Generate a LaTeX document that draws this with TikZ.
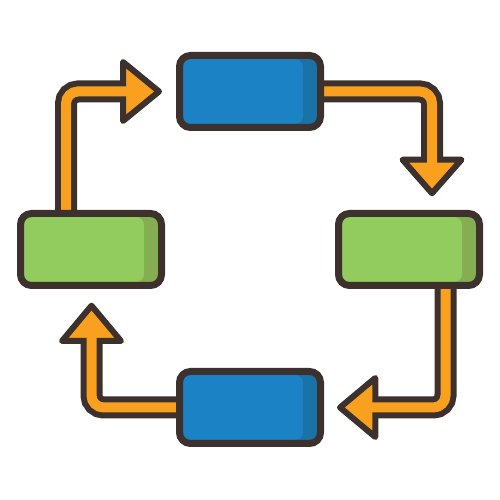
\documentclass[tikz,border=0pt]{standalone}
\usetikzlibrary{calc,backgrounds}
\definecolor{outl}{HTML}{3C312C}
\definecolor{orng}{HTML}{F9A11F}
\definecolor{blu}{HTML}{1B82C5}
\definecolor{bluD}{HTML}{1A73A7}
\definecolor{grn}{HTML}{92CB5E}
\definecolor{grnD}{HTML}{85AE52}
\begin{document}
\begin{tikzpicture}[x=1pt,y=1pt,
  box/.style 2 args={draw=outl, line width=7pt, rounded corners=11pt,
    minimum width=141pt, minimum height=72pt, inner sep=0pt, fill=#2,
    path picture={
      \fill[#1, rounded corners=8pt]
        ($(path picture bounding box.south west)+(-12pt,3.5pt)$) rectangle
        ($(path picture bounding box.north east)+(-17.5pt,-3.5pt)$);
    }},
  shaftdark/.style={draw=outl, line width=22pt, rounded corners=12pt},
  shaftlight/.style={draw=orng, line width=10pt, rounded corners=12pt},
  head/.style={fill=orng, draw=outl, line width=6pt, line join=round}
]
\useasboundingbox (0,0) rectangle (500,500);
\node[box={blu}{bluD}] (top) at (250,408.5) {};
\node[box={grn}{grnD}] (left) at (91,250.5) {};
\node[box={grn}{grnD}] (right) at (409,250.5) {};
\node[box={blu}{bluD}] (bottom) at (250,92.5) {};
\begin{scope}[on background layer]
  % arrow 1: left -> top
  \coordinate (hb1) at (123,408.5);
  \coordinate (tp1) at (159,408.5);
  \coordinate (e1) at (133,408.5);
  \draw[shaftdark] ($(left.north)+(-25,0)$) |- (hb1);
  \draw[head] ($(hb1)+(0,29.5)$) -- (tp1) -- ($(hb1)+(0,-29.5)$) -- cycle;
  \draw[shaftlight] ($(left.north)+(-25,0)$) |- (e1);
  % arrow 2: top -> right
  \coordinate (hb2) at (432,340.3);
  \coordinate (tp2) at (432,306.7);
  \coordinate (e2) at (432,330);
  \draw[shaftdark] (top.east) -| (hb2);
  \draw[head] ($(hb2)+(-29.5,0)$) -- (tp2) -- ($(hb2)+(29.5,0)$) -- cycle;
  \draw[shaftlight] (top.east) -| (e2);
  % arrow 3: right -> bottom
  \coordinate (hb3) at (375.3,92.5);
  \coordinate (tp3) at (340,92.5);
  \coordinate (e3) at (365,92.5);
  \draw[shaftdark] ($(right.south)+(36.5,0)$) |- (hb3);
  \draw[head] ($(hb3)+(0,29.5)$) -- (tp3) -- ($(hb3)+(0,-29.5)$) -- cycle;
  \draw[shaftlight] ($(right.south)+(36.5,0)$) |- (e3);
  % arrow 4: bottom -> left
  \coordinate (hb4) at (91.5,159);
  \coordinate (tp4) at (91.5,194.3);
  \coordinate (e4) at (91.5,169);
  \draw[shaftdark] (bottom.west) -| (hb4);
  \draw[head] ($(hb4)+(-29.5,0)$) -- (tp4) -- ($(hb4)+(29.5,0)$) -- cycle;
  \draw[shaftlight] (bottom.west) -| (e4);
\end{scope}
\end{tikzpicture}
\end{document}
